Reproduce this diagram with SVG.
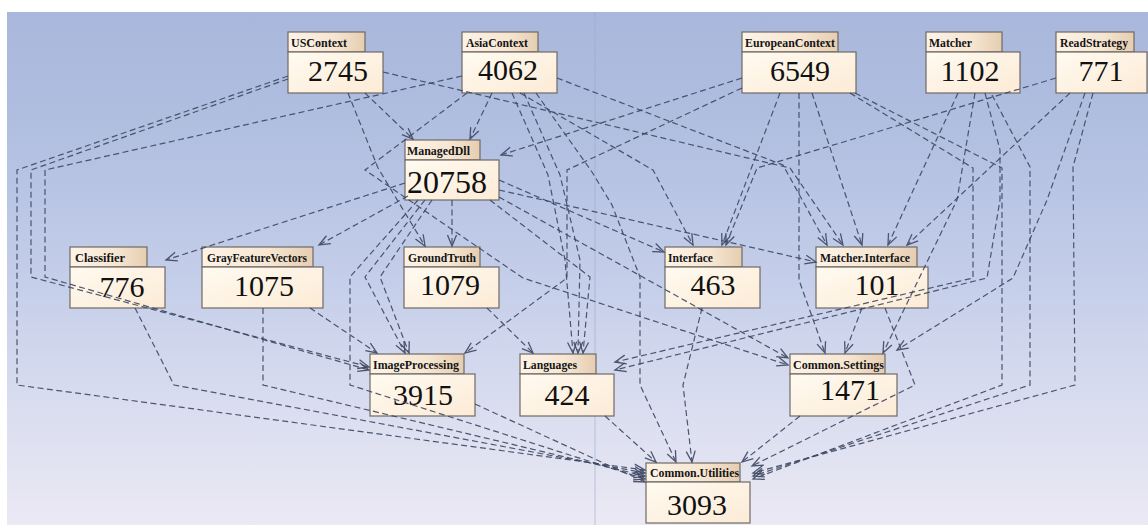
<svg xmlns="http://www.w3.org/2000/svg" width="1148" height="525" viewBox="0 0 1148 525">
<defs>
<linearGradient id="bg" x1="0" y1="0" x2="0" y2="1">
<stop offset="0" stop-color="#a8b7db"/>
<stop offset="0.22" stop-color="#b0bee0"/>
<stop offset="0.5" stop-color="#c3cde9"/>
<stop offset="0.8" stop-color="#dcdff0"/>
<stop offset="1" stop-color="#ebe9f4"/>
</linearGradient>
<linearGradient id="tab" x1="0" y1="0" x2="1" y2="0">
<stop offset="0" stop-color="#fdf3e6"/>
<stop offset="0.6" stop-color="#f6e6d2"/>
<stop offset="1" stop-color="#e6cdb0"/>
</linearGradient>
<linearGradient id="body" x1="0" y1="0" x2="1" y2="1">
<stop offset="0" stop-color="#fffaf0"/>
<stop offset="1" stop-color="#fcebd6"/>
</linearGradient>
<marker id="ah" markerWidth="14" markerHeight="12" refX="12" refY="6" orient="auto" markerUnits="userSpaceOnUse">
<path d="M1,1.5 L12,6 L1,10.5" fill="none" stroke="#3e4862" stroke-width="1.3"/>
</marker>
<style>
.tab{fill:url(#tab);stroke:#6e6a66;stroke-width:1.2}
.body{fill:url(#body);stroke:#6e6a66;stroke-width:1.2}
.lbl{font-family:"Liberation Serif",serif;font-weight:bold;font-size:13px;fill:#141414}
.num{font-family:"Liberation Serif",serif;font-size:30px;fill:#111;text-anchor:middle}
.c path{fill:none;stroke:#3e4862;stroke-width:1.2;stroke-dasharray:6,3.5;marker-end:url(#ah);opacity:0.9}
</style>
</defs>
<rect x="0" y="0" width="1148" height="525" fill="#ffffff"/>
<rect x="7" y="12" width="1141" height="513" fill="url(#bg)"/>
<line x1="595" y1="12" x2="595" y2="525" stroke="#9ea9cc" stroke-width="1" opacity="0.6"/>

<g id="USContext"><rect class="tab" x="288" y="32" width="77" height="20"/><rect class="body" x="288" y="52" width="95" height="41"/><text class="lbl" x="291" y="47" textLength="56" lengthAdjust="spacingAndGlyphs">USContext</text><text class="num" x="338" y="81">2745</text></g>
<g id="AsiaContext"><rect class="tab" x="462" y="32" width="76" height="20"/><rect class="body" x="462" y="52" width="95" height="41"/><text class="lbl" x="466" y="47" textLength="62" lengthAdjust="spacingAndGlyphs">AsiaContext</text><text class="num" x="508" y="80">4062</text></g>
<g id="EuropeanContext"><rect class="tab" x="742" y="32" width="96" height="20"/><rect class="body" x="742" y="52" width="114" height="41"/><text class="lbl" x="745" y="47" textLength="90" lengthAdjust="spacingAndGlyphs">EuropeanContext</text><text class="num" x="800" y="81">6549</text></g>
<g id="Matcher"><rect class="tab" x="926" y="32" width="76" height="20"/><rect class="body" x="926" y="52" width="94" height="41"/><text class="lbl" x="929" y="47" textLength="43" lengthAdjust="spacingAndGlyphs">Matcher</text><text class="num" x="970" y="81">1102</text></g>
<g id="ReadStrategy"><rect class="tab" x="1056" y="32" width="78" height="20"/><rect class="body" x="1056" y="52" width="91" height="41"/><text class="lbl" x="1060" y="47" textLength="68" lengthAdjust="spacingAndGlyphs">ReadStrategy</text><text class="num" x="1101" y="81">771</text></g>
<g id="ManagedDll"><rect class="tab" x="405" y="140" width="75" height="20"/><rect class="body" x="405" y="160" width="94" height="40"/><text class="lbl" x="407" y="155" textLength="63" lengthAdjust="spacingAndGlyphs">ManagedDll</text><text class="num" x="447" y="193" style="font-size:32px">20758</text></g>
<g id="Classifier"><rect class="tab" x="70" y="247" width="77" height="20"/><rect class="body" x="70" y="267" width="95" height="41"/><text class="lbl" x="75" y="262" textLength="50" lengthAdjust="spacingAndGlyphs">Classifier</text><text class="num" x="122" y="297">776</text></g>
<g id="GrayFeatureVectors"><rect class="tab" x="202" y="247" width="111" height="20"/><rect class="body" x="202" y="267" width="121" height="41"/><text class="lbl" x="207" y="262" textLength="100" lengthAdjust="spacingAndGlyphs">GrayFeatureVectors</text><text class="num" x="264" y="296">1075</text></g>
<g id="GroundTruth"><rect class="tab" x="404" y="247" width="76" height="20"/><rect class="body" x="404" y="267" width="95" height="41"/><text class="lbl" x="408" y="262" textLength="68" lengthAdjust="spacingAndGlyphs">GroundTruth</text><text class="num" x="450" y="295">1079</text></g>
<g id="Interface"><rect class="tab" x="665" y="247" width="77" height="20"/><rect class="body" x="665" y="267" width="95" height="41"/><text class="lbl" x="668" y="262" textLength="45" lengthAdjust="spacingAndGlyphs">Interface</text><text class="num" x="713" y="295">463</text></g>
<g id="Matcher.Interface"><rect class="tab" x="816" y="247" width="101" height="20"/><rect class="body" x="816" y="267" width="112" height="41"/><text class="lbl" x="820" y="262" textLength="90" lengthAdjust="spacingAndGlyphs">Matcher.Interface</text><text class="num" x="877" y="295">101</text></g>
<g id="ImageProcessing"><rect class="tab" x="370" y="354" width="94" height="20"/><rect class="body" x="370" y="374" width="105" height="42"/><text class="lbl" x="373" y="369" textLength="86" lengthAdjust="spacingAndGlyphs">ImageProcessing</text><text class="num" x="423" y="405">3915</text></g>
<g id="Languages"><rect class="tab" x="520" y="354" width="76" height="20"/><rect class="body" x="520" y="374" width="94" height="42"/><text class="lbl" x="523" y="369" textLength="54" lengthAdjust="spacingAndGlyphs">Languages</text><text class="num" x="567" y="405">424</text></g>
<g id="Common.Settings"><rect class="tab" x="790" y="354" width="95" height="20"/><rect class="body" x="790" y="374" width="107" height="42"/><text class="lbl" x="793" y="369" textLength="91" lengthAdjust="spacingAndGlyphs">Common.Settings</text><text class="num" x="850" y="400">1471</text></g>
<g id="Common.Utilities"><rect class="tab" x="646" y="463" width="94" height="19"/><rect class="body" x="646" y="482" width="104" height="41"/><text class="lbl" x="650" y="477" textLength="89" lengthAdjust="spacingAndGlyphs">Common.Utilities</text><text class="num" x="697" y="515">3093</text></g>

<g id="connectors" class="c">
<path d="M365,93 L413,139"/>
<path d="M492,93 L470,139"/>
<path d="M742,78 L501,155"/>
<path d="M405,183 L166,260"/>
<path d="M408,196 L319,245"/>
<path d="M348,93 L378,168 L425,246"/>
<path d="M452,200 L452,246"/>
<path d="M499,180 L664,252"/>
<path d="M383,72 L790,168 L843,245"/>
<path d="M557,78 L783,165 L827,245"/>
<path d="M520,93 L653,170 L693,245"/>
<path d="M780,93 L722,245"/>
<path d="M1056,78 L757,168 L726,245"/>
<path d="M499,190 L816,262"/>
<path d="M812,93 L862,245"/>
<path d="M958,93 L888,245"/>
<path d="M1070,93 L907,245"/>
<path d="M288,79 L31,170 L31,277 L369,367"/>
<path d="M462,76 L45,170 L45,277 L369,370"/>
<path d="M310,308 L377,353"/>
<path d="M425,200 L365,277 L405,353"/>
<path d="M432,200 L380,277 L409,353"/>
<path d="M742,88 L567,170 L567,278 L465,353"/>
<path d="M487,308 L533,353"/>
<path d="M512,93 L548,175 L565,260 L573,353"/>
<path d="M524,93 L560,175 L580,260 L578,353"/>
<path d="M490,200 L590,277 L583,353"/>
<path d="M850,93 L973,168 L973,278 L615,362"/>
<path d="M985,93 L1000,150 L1000,200 L987,278 L615,370"/>
<path d="M467,93 L365,170 L523,278 L788,365"/>
<path d="M499,197 L788,358"/>
<path d="M799,93 L799,280 L825,353"/>
<path d="M862,308 L845,353"/>
<path d="M975,93 L957,200 L883,353"/>
<path d="M1085,93 L1047,200 L1013,278 L897,350"/>
<path d="M288,76 L17,170 L17,385 L645,470"/>
<path d="M135,308 L174,385 L645,473"/>
<path d="M263,308 L263,385 L645,476"/>
<path d="M418,200 L350,277 L350,385 L645,479"/>
<path d="M475,404 L645,482"/>
<path d="M605,416 L656,462"/>
<path d="M536,93 L592,172 L612,205 L640,277 L640,385 L676,462"/>
<path d="M702,308 L683,385 L692,462"/>
<path d="M800,416 L742,462"/>
<path d="M885,308 L915,385 L752,466"/>
<path d="M1093,93 L1073,167 L1075,385 L753,473"/>
<path d="M992,95 L1030,167 L1030,385 L753,476"/>
<path d="M855,93 L1002,168 L1002,385 L753,479"/>
</g>
</svg>
